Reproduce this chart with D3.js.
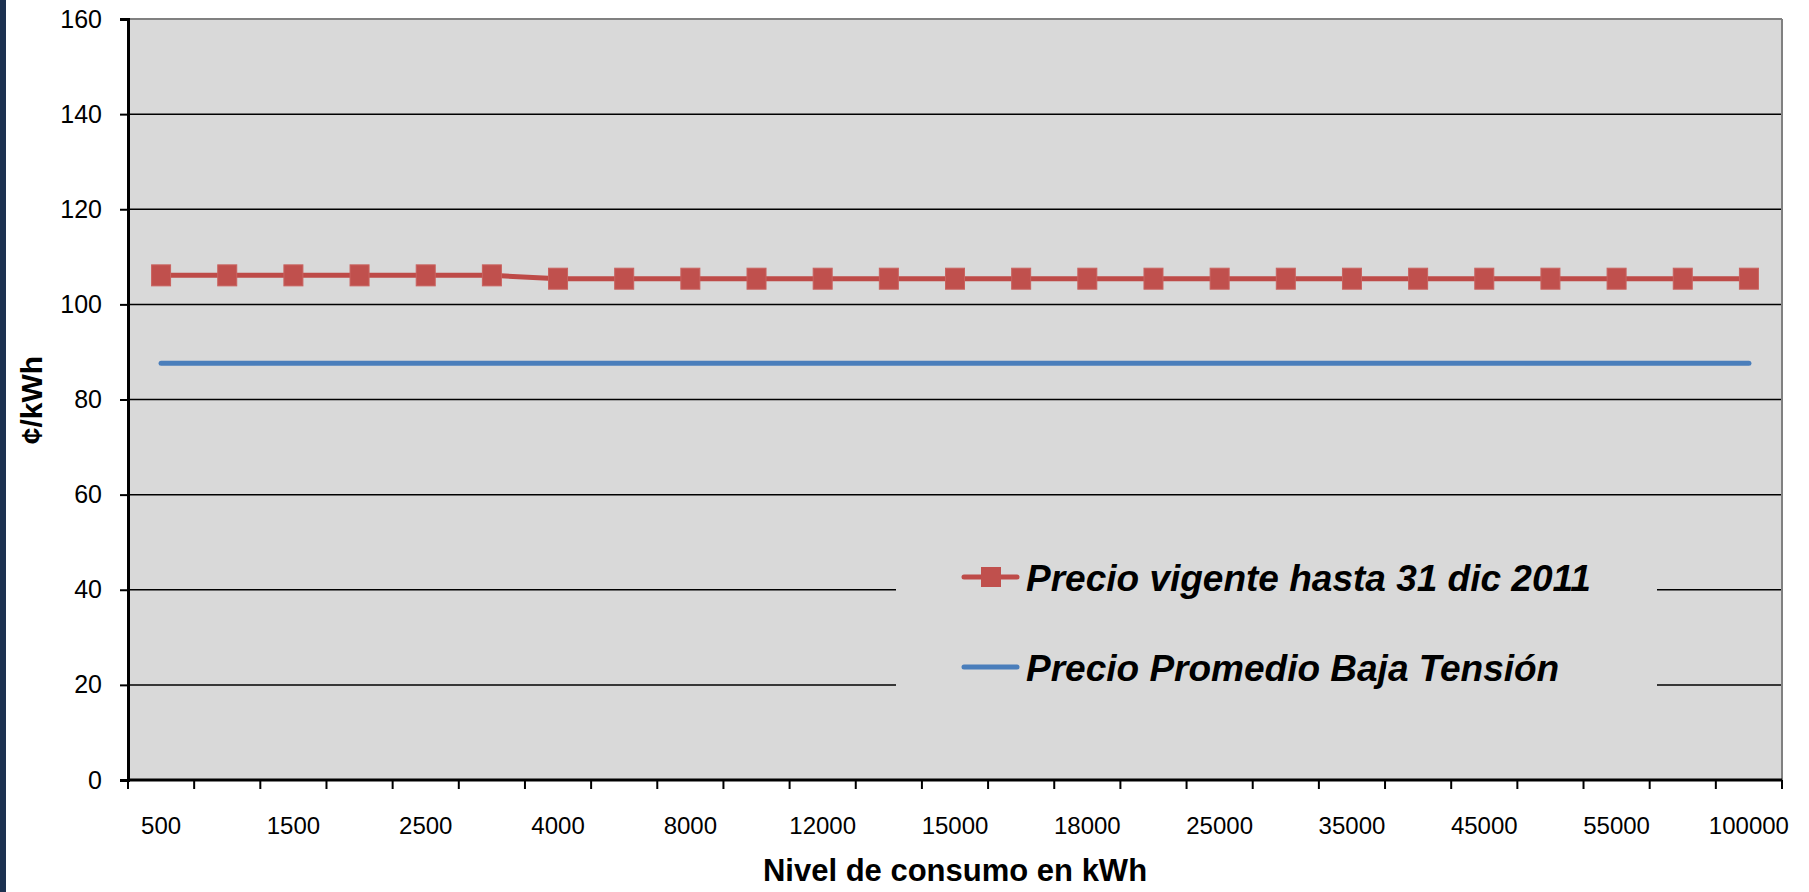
<!DOCTYPE html>
<html>
<head>
<meta charset="utf-8">
<script src="https://cdn.jsdelivr.net/npm/d3@7/dist/d3.min.js"></script>
<style>
  html, body { margin: 0; padding: 0; background: #ffffff; }
  svg { display: block; font-family: "Liberation Sans", Arial, sans-serif; }
</style>
</head>
<body>
<svg id="chart" width="1809" height="892"></svg>
<script>
// Consumption levels (kWh) on the category axis
const categories = [500, 1000, 1500, 2000, 2500, 3000, 4000, 6000, 8000, 10000, 12000, 14000,
  15000, 16000, 18000, 20000, 25000, 30000, 35000, 40000, 45000, 50000, 55000, 60000, 100000];
// Only every other level carries a printed label
const tickLabels = ["500", "1500", "2500", "4000", "8000", "12000", "15000", "18000",
  "25000", "35000", "45000", "55000", "100000"];
// ¢/kWh for the tariff in force until 31 Dec 2011
const precioVigente = [106.1, 106.1, 106.1, 106.1, 106.1, 106.1, 105.4, 105.4, 105.4, 105.4,
  105.4, 105.4, 105.4, 105.4, 105.4, 105.4, 105.4, 105.4, 105.4, 105.4, 105.4, 105.4, 105.4, 105.4, 105.4];
// ¢/kWh average low-voltage price
const precioPromedio = [87.6, 87.6, 87.6, 87.6, 87.6, 87.6, 87.6, 87.6, 87.6, 87.6, 87.6, 87.6,
  87.6, 87.6, 87.6, 87.6, 87.6, 87.6, 87.6, 87.6, 87.6, 87.6, 87.6, 87.6, 87.6];
const yTicks = [0, 20, 40, 60, 80, 100, 120, 140, 160];
const seriesNames = ["Precio vigente hasta 31 dic 2011", "Precio Promedio Baja Tensión"];

const svg = d3.select("#chart");
const plot = { left: 128, right: 1782, top: 19, bottom: 780 };

const x = d3.scaleBand().domain(categories).range([plot.left, plot.right]).padding(0);
const y = d3.scaleLinear().domain([0, 160]).range([plot.bottom, plot.top]);
const cx = d => x(d) + x.bandwidth() / 2;

// page frame: dark rule down the left edge
svg.append("rect").attr("x", 0).attr("y", 0).attr("width", 6).attr("height", 892).attr("fill", "#1c3150");

// plot background
svg.append("rect")
  .attr("x", plot.left).attr("y", plot.top)
  .attr("width", plot.right - plot.left).attr("height", plot.bottom - plot.top)
  .attr("fill", "#d9d9d9");

// horizontal gridlines
svg.append("g").selectAll("line").data(yTicks.filter(t => t > 0 && t < 160)).join("line")
  .attr("x1", plot.left).attr("x2", plot.right)
  .attr("y1", d => y(d)).attr("y2", d => y(d))
  .attr("stroke", "#000").attr("stroke-width", 1.5);

// top and right borders of the plot area
svg.append("line").attr("x1", plot.left).attr("x2", plot.right).attr("y1", plot.top).attr("y2", plot.top)
  .attr("stroke", "#808080").attr("stroke-width", 2);
svg.append("line").attr("x1", plot.right).attr("x2", plot.right).attr("y1", plot.top).attr("y2", plot.bottom)
  .attr("stroke", "#808080").attr("stroke-width", 2);

// y axis
const yAxis = svg.append("g").attr("transform", `translate(${plot.left},0)`)
  .call(d3.axisLeft(y).tickValues(yTicks).tickSize(8).tickPadding(18));
yAxis.select(".domain").attr("stroke", "#000").attr("stroke-width", 3);
yAxis.selectAll(".tick line").attr("stroke", "#000").attr("stroke-width", 2);
yAxis.selectAll(".tick text").attr("font-size", 25).attr("fill", "#000")
  .attr("font-family", "'Liberation Sans', Arial, sans-serif");

// x axis: labels on alternate categories, ticks on the band boundaries
const labelSet = new Set(tickLabels);
const xAxis = svg.append("g").attr("transform", `translate(0,${plot.bottom})`)
  .call(d3.axisBottom(x).tickSize(0).tickPadding(37).tickFormat(d => labelSet.has(String(d)) ? String(d) : ""));
xAxis.select(".domain").remove();
xAxis.selectAll(".tick text").attr("font-size", 24).attr("fill", "#000")
  .attr("font-family", "'Liberation Sans', Arial, sans-serif");
const bounds = categories.map(d => x(d)).concat([plot.right]);
xAxis.append("g").selectAll("line").data(bounds).join("line")
  .attr("x1", d => d).attr("x2", d => d).attr("y1", 0).attr("y2", 9)
  .attr("stroke", "#000").attr("stroke-width", 2);
svg.append("line").attr("x1", plot.left - 1).attr("x2", plot.right).attr("y1", plot.bottom).attr("y2", plot.bottom)
  .attr("stroke", "#000").attr("stroke-width", 3);

// axis titles
svg.append("text").attr("x", 955).attr("y", 881).attr("text-anchor", "middle")
  .attr("font-size", 31).attr("font-weight", "bold").text("Nivel de consumo en kWh");
svg.append("text").attr("transform", "translate(42,400) rotate(-90)").attr("text-anchor", "middle")
  .attr("font-size", 30).attr("font-weight", "bold").text("¢/kWh");

// average low-voltage price line
const line = d3.line().x((d, i) => cx(categories[i])).y(d => y(d));
svg.append("path").datum(precioPromedio).attr("d", line)
  .attr("fill", "none").attr("stroke", "#4a7ebb").attr("stroke-width", 5).attr("stroke-linecap", "round");

// tariff line with square markers
svg.append("path").datum(precioVigente).attr("d", line)
  .attr("fill", "none").attr("stroke", "#be4b48").attr("stroke-width", 5);
const ms = 19;
svg.append("g").selectAll("rect").data(precioVigente).join("rect")
  .attr("x", (d, i) => cx(categories[i]) - ms / 2).attr("y", d => y(d) - ms / 2 - 1)
  .attr("width", ms).attr("height", ms + 2)
  .attr("fill", "#c0504d").attr("stroke", "#c9625f").attr("stroke-width", 1);

// legend
const lg = svg.append("g");
lg.append("rect").attr("x", 896).attr("y", 530).attr("width", 761).attr("height", 210).attr("fill", "#d9d9d9");
const items = [
  { name: seriesNames[0], color: "#be4b48", marker: true, cy: 577 },
  { name: seriesNames[1], color: "#4a7ebb", marker: false, cy: 667 }
];
items.forEach(it => {
  lg.append("line").attr("x1", 964).attr("x2", 1017).attr("y1", it.cy).attr("y2", it.cy)
    .attr("stroke", it.color).attr("stroke-width", 5).attr("stroke-linecap", "round");
  if (it.marker) {
    lg.append("rect").attr("x", 981).attr("y", it.cy - 10).attr("width", 20).attr("height", 20).attr("fill", "#c0504d");
  }
  lg.append("text").attr("x", 1026).attr("y", it.cy + 14)
    .attr("font-size", 37).attr("font-weight", "bold").attr("font-style", "italic")
    .attr("fill", "#000").text(it.name);
});
</script>
</body>
</html>
